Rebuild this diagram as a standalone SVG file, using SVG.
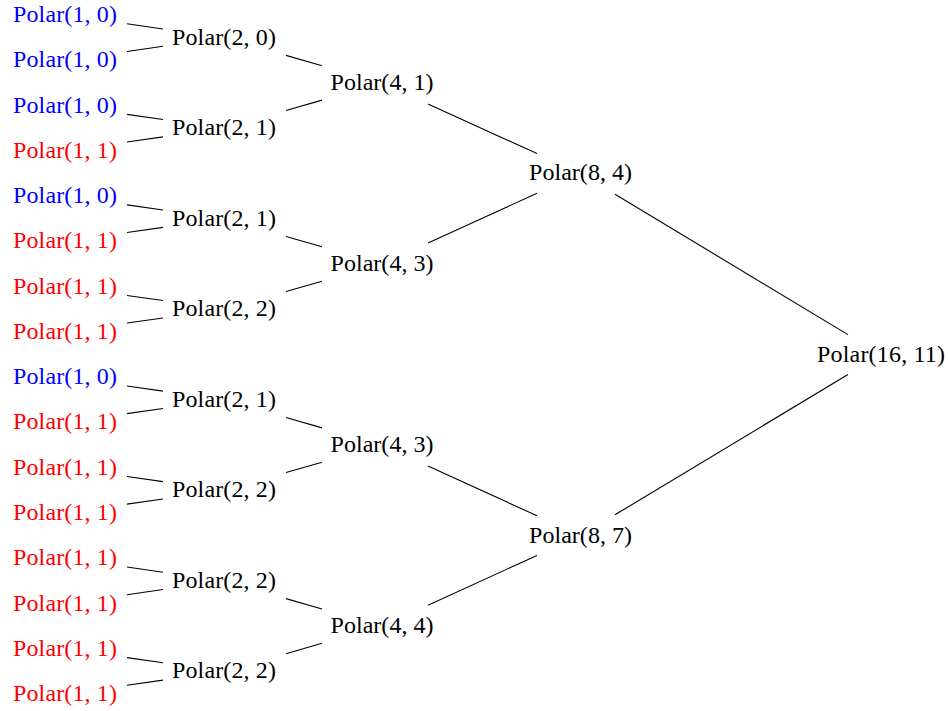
<svg xmlns="http://www.w3.org/2000/svg" width="948" height="711" viewBox="0 0 948 711">
<style>
text{font-family:"Liberation Serif","Times New Roman",serif;font-size:24px;text-anchor:middle;fill:#000}
.b{fill:#0000ff}
.r{fill:#ff0000}
#edges line{stroke:#000;stroke-width:1.1}
</style>
<rect width="948" height="711" fill="#fff"/>
<g id="edges">
<line x1="127" y1="23.83" x2="163" y2="28.95"/>
<line x1="127" y1="51.44" x2="163" y2="46.32"/>
<line x1="127" y1="114.37" x2="163" y2="119.49"/>
<line x1="127" y1="141.98" x2="163" y2="136.86"/>
<line x1="127" y1="204.91" x2="163" y2="210.03"/>
<line x1="127" y1="232.52" x2="163" y2="227.40"/>
<line x1="127" y1="295.45" x2="163" y2="300.57"/>
<line x1="127" y1="323.06" x2="163" y2="317.94"/>
<line x1="127" y1="385.99" x2="163" y2="391.11"/>
<line x1="127" y1="413.60" x2="163" y2="408.48"/>
<line x1="127" y1="476.53" x2="163" y2="481.65"/>
<line x1="127" y1="504.14" x2="163" y2="499.02"/>
<line x1="127" y1="567.07" x2="163" y2="572.19"/>
<line x1="127" y1="594.68" x2="163" y2="589.56"/>
<line x1="127" y1="657.61" x2="163" y2="662.73"/>
<line x1="127" y1="685.22" x2="163" y2="680.10"/>
<line x1="286" y1="55.40" x2="322" y2="65.72"/>
<line x1="286" y1="110.42" x2="322" y2="100.10"/>
<line x1="286" y1="236.48" x2="322" y2="246.80"/>
<line x1="286" y1="291.50" x2="322" y2="281.18"/>
<line x1="286" y1="417.56" x2="322" y2="427.88"/>
<line x1="286" y1="472.58" x2="322" y2="462.26"/>
<line x1="286" y1="598.64" x2="322" y2="608.96"/>
<line x1="286" y1="653.66" x2="322" y2="643.34"/>
<line x1="428" y1="103.89" x2="537" y2="153.61"/>
<line x1="428" y1="243.01" x2="537" y2="193.29"/>
<line x1="428" y1="466.05" x2="537" y2="515.77"/>
<line x1="428" y1="605.17" x2="537" y2="555.45"/>
<line x1="615" y1="194.24" x2="848" y2="334.65"/>
<line x1="615" y1="514.82" x2="848" y2="374.41"/>
</g>
<g id="leaf0"><text class="b" x="65" y="22" textLength="104">Polar(1, 0)</text></g>
<g id="leaf1"><text class="b" x="65" y="67.27" textLength="104">Polar(1, 0)</text></g>
<g id="leaf2"><text class="b" x="65" y="112.54" textLength="104">Polar(1, 0)</text></g>
<g id="leaf3"><text class="r" x="65" y="157.81" textLength="104">Polar(1, 1)</text></g>
<g id="leaf4"><text class="b" x="65" y="203.08" textLength="104">Polar(1, 0)</text></g>
<g id="leaf5"><text class="r" x="65" y="248.35" textLength="104">Polar(1, 1)</text></g>
<g id="leaf6"><text class="r" x="65" y="293.62" textLength="104">Polar(1, 1)</text></g>
<g id="leaf7"><text class="r" x="65" y="338.89" textLength="104">Polar(1, 1)</text></g>
<g id="leaf8"><text class="b" x="65" y="384.16" textLength="104">Polar(1, 0)</text></g>
<g id="leaf9"><text class="r" x="65" y="429.43" textLength="104">Polar(1, 1)</text></g>
<g id="leaf10"><text class="r" x="65" y="474.7" textLength="104">Polar(1, 1)</text></g>
<g id="leaf11"><text class="r" x="65" y="519.97" textLength="104">Polar(1, 1)</text></g>
<g id="leaf12"><text class="r" x="65" y="565.24" textLength="104">Polar(1, 1)</text></g>
<g id="leaf13"><text class="r" x="65" y="610.51" textLength="104">Polar(1, 1)</text></g>
<g id="leaf14"><text class="r" x="65" y="655.78" textLength="104">Polar(1, 1)</text></g>
<g id="leaf15"><text class="r" x="65" y="701.05" textLength="104">Polar(1, 1)</text></g>
<g id="n1a"><text x="224" y="44.64" textLength="104">Polar(2, 0)</text></g>
<g id="n1b"><text x="224" y="135.18" textLength="104">Polar(2, 1)</text></g>
<g id="n1c"><text x="224" y="225.72" textLength="104">Polar(2, 1)</text></g>
<g id="n1d"><text x="224" y="316.26" textLength="104">Polar(2, 2)</text></g>
<g id="n1e"><text x="224" y="406.8" textLength="104">Polar(2, 1)</text></g>
<g id="n1f"><text x="224" y="497.34" textLength="104">Polar(2, 2)</text></g>
<g id="n1g"><text x="224" y="587.88" textLength="104">Polar(2, 2)</text></g>
<g id="n1h"><text x="224" y="678.42" textLength="104">Polar(2, 2)</text></g>
<g id="n2a"><text x="382" y="89.91" textLength="103">Polar(4, 1)</text></g>
<g id="n2b"><text x="382" y="270.99" textLength="103">Polar(4, 3)</text></g>
<g id="n2c"><text x="382" y="452.07" textLength="103">Polar(4, 3)</text></g>
<g id="n2d"><text x="382" y="633.15" textLength="103">Polar(4, 4)</text></g>
<g id="n3a"><text x="580.5" y="180.45" textLength="103">Polar(8, 4)</text></g>
<g id="n3b"><text x="580.5" y="542.61" textLength="103">Polar(8, 7)</text></g>
<g id="root"><text x="881" y="361.53" textLength="128">Polar(16, 11)</text></g>
</svg>
